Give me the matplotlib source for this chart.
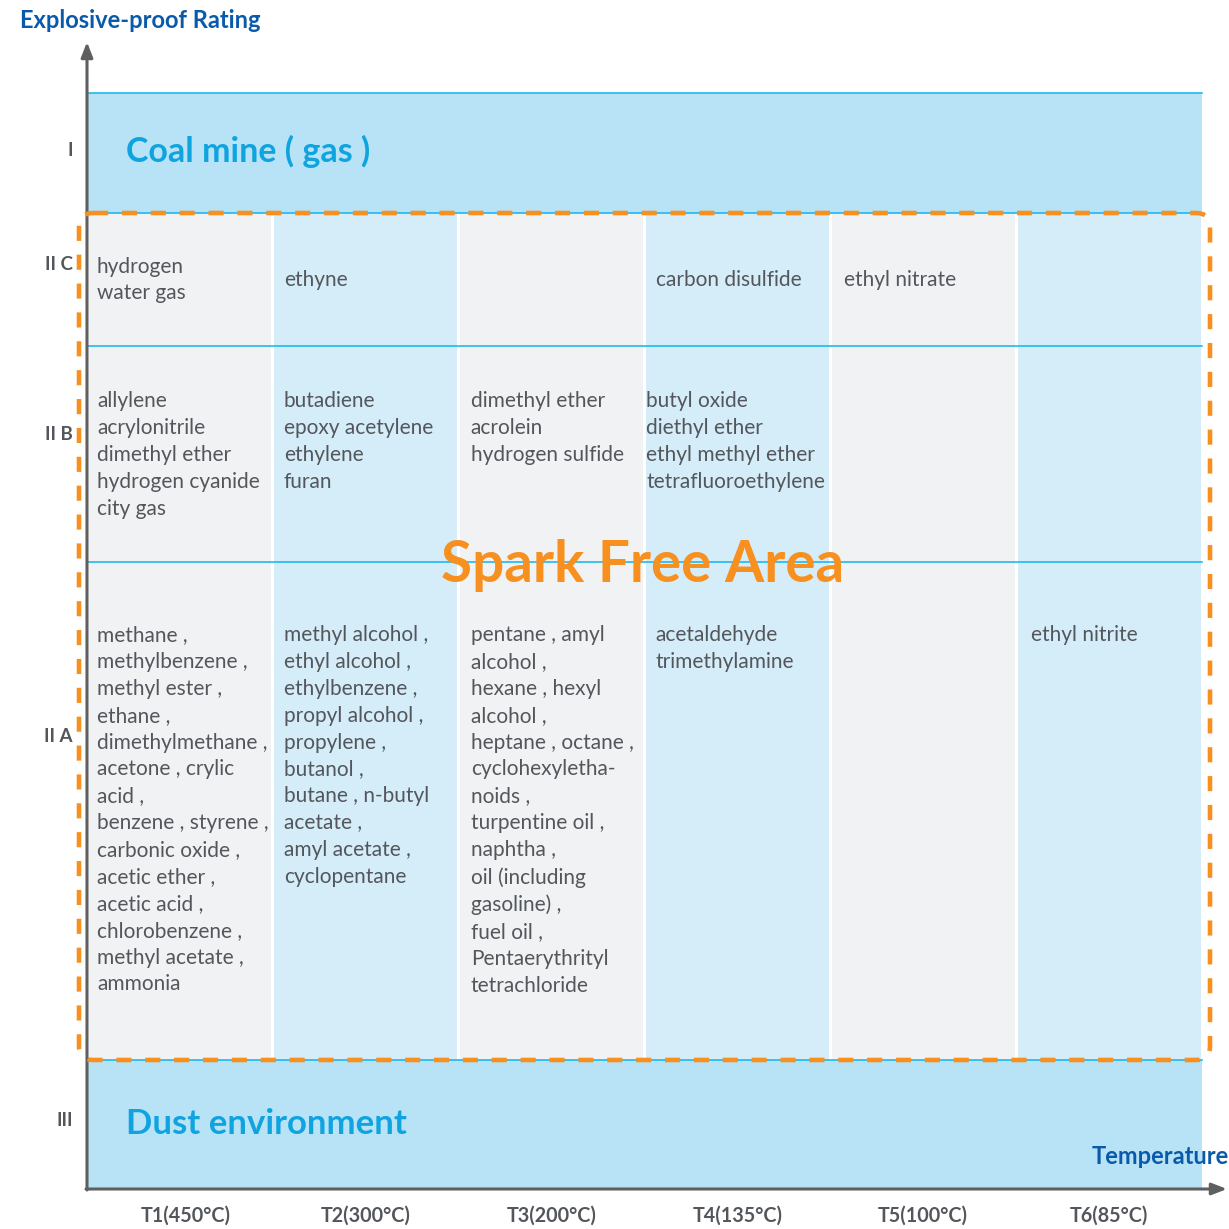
import matplotlib
matplotlib.use("Agg")
import matplotlib.pyplot as plt
from matplotlib.patches import Rectangle, FancyBboxPatch

plt.rcParams['font.family'] = ['Lato', 'DejaVu Sans']

TEMPS = ['T1(450°C)', 'T2(300°C)', 'T3(200°C)', 'T4(135°C)', 'T5(100°C)', 'T6(85°C)']
RATINGS = ['I', 'II C', 'II B', 'II A', 'III']

GAS_IIC = [
    'hydrogen\nwater gas',
    'ethyne',
    '',
    'carbon disulfide',
    'ethyl nitrate',
    '',
]
GAS_IIB = [
    'allylene\nacrylonitrile\ndimethyl ether\nhydrogen cyanide\ncity gas',
    'butadiene\nepoxy acetylene\nethylene\nfuran',
    'dimethyl ether\nacrolein\nhydrogen sulfide',
    'butyl oxide\ndiethyl ether\nethyl methyl ether\ntetrafluoroethylene',
    '',
    '',
]
GAS_IIA = [
    'methane ,\nmethylbenzene ,\nmethyl ester ,\nethane ,\ndimethylmethane ,\n'
    'acetone , crylic\nacid ,\nbenzene , styrene ,\ncarbonic oxide ,\n'
    'acetic ether ,\nacetic acid ,\nchlorobenzene ,\nmethyl acetate ,\nammonia',
    'methyl alcohol ,\nethyl alcohol ,\nethylbenzene ,\npropyl alcohol ,\n'
    'propylene ,\nbutanol ,\nbutane , n-butyl\nacetate ,\namyl acetate ,\ncyclopentane',
    'pentane , amyl\nalcohol ,\nhexane , hexyl\nalcohol ,\nheptane , octane ,\n'
    'cyclohexyletha-\nnoids ,\nturpentine oil ,\nnaphtha ,\noil (including\n'
    'gasoline) ,\nfuel oil ,\nPentaerythrityl\ntetrachloride',
    'acetaldehyde\ntrimethylamine',
    '',
    'ethyl nitrite',
]

# layout in pixels (figure is 1229 x 1229)
X0, X1 = 87, 1202
COL_W = (X1 - X0) / len(TEMPS)
Y_TOP_I, Y_IIC, Y_IIB, Y_IIA, Y_III, Y_AXIS = 93, 213, 346, 562, 1060, 1189
RATING_Y = [151, 264, 434, 736, 1120]

BAND = '#b8e3f7'
CYAN = '#10b4ec'
GRAY_COL = '#f0f2f4'
BLUE_COL = '#d5ecf9'
TEXT = '#53575c'
NAVY = '#0a5aab'
ORANGE = '#f7901e'
FS = 15
LS = 1.43

fig = plt.figure(figsize=(12.29, 12.29), dpi=100)
ax = fig.add_axes([0, 0, 1, 1])
ax.set_xlim(0, 1229)
ax.set_ylim(1229, 0)
ax.axis('off')

# top and bottom bands
ax.add_patch(Rectangle((X0, Y_TOP_I), X1 - X0, Y_IIC - Y_TOP_I, color=BAND, lw=0))
ax.add_patch(Rectangle((X0, Y_III), X1 - X0, Y_AXIS - Y_III, color=BAND, lw=0))

# column backgrounds
for i in range(len(TEMPS)):
    c = GRAY_COL if i % 2 == 0 else BLUE_COL
    ax.add_patch(Rectangle((X0 + i * COL_W + 1.5, Y_IIC), COL_W - 3, Y_III - Y_IIC,
                           color=c, lw=0))

for y in [Y_TOP_I, Y_IIC, Y_IIB, Y_IIA, Y_III]:
    ax.plot([X0, X1], [y, y], color=CYAN, lw=1.1)

# gas names
pad = [10, 11, 12, 11, 14, 15]
for i, txt in enumerate(GAS_IIC):
    ax.text(X0 + i * COL_W + pad[i], 280, txt, fontsize=FS,
            color=TEXT, va='center', ha='left', linespacing=LS)
for i, txt in enumerate(GAS_IIB):
    p = 2 if i == 3 else pad[i]
    ax.text(X0 + i * COL_W + p, 391, txt, fontsize=FS,
            color=TEXT, va='top', ha='left', linespacing=LS)
for i, txt in enumerate(GAS_IIA):
    ax.text(X0 + i * COL_W + pad[i], 625, txt, fontsize=FS,
            color=TEXT, va='top', ha='left', linespacing=LS)

ax.text(126, 151, 'Coal mine ( gas )', fontsize=24.5, fontweight='bold',
        color='#0fa4e0', va='center', ha='left')
ax.text(126, 1124, 'Dust environment', fontsize=25, fontweight='bold',
        color='#0fa4e0', va='center', ha='left')

# dashed spark free border
ax.add_patch(FancyBboxPatch((79, Y_IIC), 1210 - 79, Y_III - Y_IIC,
                            boxstyle='round,pad=0,rounding_size=14',
                            fill=False, ec=ORANGE, lw=3.3,
                            linestyle=(0, (3.3, 3.0)), zorder=5))
ax.text(643, 566, 'Spark Free Area', fontsize=40.7, fontweight='bold',
        color=ORANGE, va='center', ha='center', zorder=6)

# axes with arrows
ax.annotate('', xy=(87, 42), xytext=(87, Y_AXIS + 1),
            arrowprops=dict(arrowstyle='-|>,head_width=0.35,head_length=0.9',
                            color='#5f5f5f', lw=2.2, shrinkA=0, shrinkB=0))
ax.annotate('', xy=(1227, Y_AXIS), xytext=(86, Y_AXIS),
            arrowprops=dict(arrowstyle='-|>,head_width=0.35,head_length=0.9',
                            color='#5f5f5f', lw=2.2, shrinkA=0, shrinkB=0))

for label, y in zip(RATINGS, RATING_Y):
    ax.text(73, y, label, fontsize=13.5, fontweight='bold', color=TEXT,
            ha='right', va='center')
for i, label in enumerate(TEMPS):
    ax.text(X0 + (i + 0.5) * COL_W + (6 if i == 0 else 0), 1216, label,
            fontsize=14.2, fontweight='bold', color=TEXT, ha='center', va='center')

ax.text(20, 21, 'Explosive-proof Rating', fontsize=17, fontweight='bold',
        color=NAVY, ha='left', va='center')
ax.text(1229, 1156, 'Temperature', fontsize=17, fontweight='bold',
        color=NAVY, ha='right', va='center')

fig.savefig('out.png', dpi=100)
